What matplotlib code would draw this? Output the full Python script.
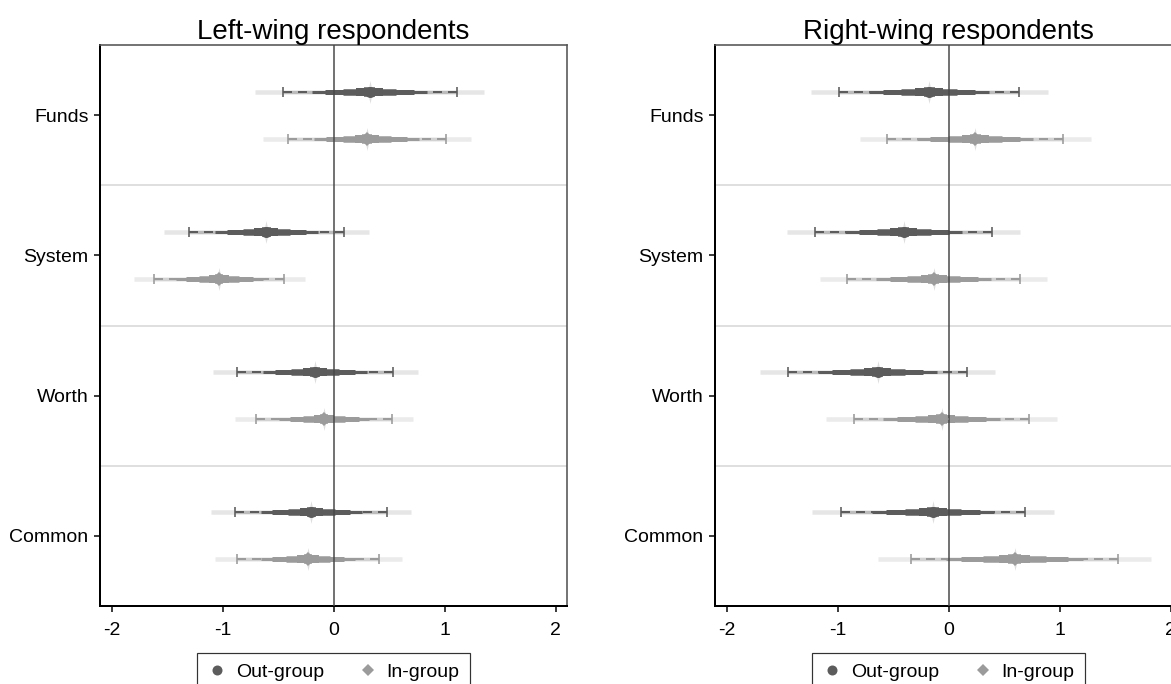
import numpy as np
import matplotlib
matplotlib.use("Agg")
import matplotlib.pyplot as plt
from matplotlib.lines import Line2D
from matplotlib.path import Path

plt.rcParams['font.family'] = ['Liberation Sans', 'DejaVu Sans']
plt.rcParams['lines.scale_dashes'] = False

categories = ["Funds", "System", "Worth", "Common"]
titles = ["Left-wing respondents", "Right-wing respondents"]
group_labels = ["Out-group", "In-group"]

# coefficients and standard errors
left_out_coef = [0.32, -0.61, -0.17, -0.205]
left_out_se = [0.40, 0.358, 0.359, 0.35]
left_in_coef = [0.295, -1.035, -0.09, -0.234]
left_in_se = [0.364, 0.30, 0.311, 0.327]

right_out_coef = [-0.18, -0.408, -0.645, -0.146]
right_out_se = [0.415, 0.407, 0.41, 0.424]
right_in_coef = [0.235, -0.138, -0.068, 0.59]
right_in_se = [0.404, 0.397, 0.404, 0.478]

Z95 = 1.96
Z99 = 2.576
PX = 0.72  # points per pixel at dpi 100

out_style = dict(col='#5c5c5c', gap='#bcbcbc', light='#e6e6e6', marker='o', ms=11)
in_style = dict(col='#9b9b9b', gap='#d2d2d2', light='#ebebeb', marker='D', ms=9.5)

# narrow vertical spike used for the light glare around each point
spike = Path([(0, 1), (0.2, 0), (0, -1), (-0.2, 0), (0, 1)],
             [Path.MOVETO, Path.LINETO, Path.LINETO, Path.LINETO, Path.CLOSEPOLY])


def draw_est(ax, y, b, se, st):
    lo, hi = b - Z95 * se, b + Z95 * se
    # outer 99% band
    ax.plot([b - Z99 * se, b + Z99 * se], [y, y], color=st['light'], lw=4.5 * PX,
            solid_capstyle='butt', zorder=2)
    # 95% band: light underlay with dark dashes starting at the caps
    ax.plot([lo, hi], [y, y], color=st['gap'], lw=3 * PX, solid_capstyle='butt', zorder=3)
    for end in (lo, hi):
        ax.plot([end, b], [y, y], color=st['col'], lw=2 * PX, dashes=(9 * PX, 6 * PX),
                solid_capstyle='butt', dash_capstyle='butt', zorder=3.5)
    ax.plot([lo, hi], [y, y], ls='none', marker='|', ms=10 * PX, mew=1.6 * PX,
            color=st['col'], zorder=4)
    # glare
    ax.plot([b], [y], marker=spike, ms=23 * PX, color='#dedede', mew=0, zorder=4.2)
    # smooth inner levels
    for z, w in [(1.3, 3), (1.0, 5), (0.6, 6.5), (0.3, 8), (0.12, 9.5)]:
        ax.plot([b - z * se, b + z * se], [y, y], color=st['col'], lw=w * PX,
                solid_capstyle='butt', zorder=4.5)
    ax.plot([b], [y], marker=st['marker'], ms=st['ms'] * PX, color=st['col'], mew=0, zorder=7)


fig = plt.figure(figsize=(11.71, 6.84), dpi=100)
ypos = np.arange(len(categories), 0, -1)
off = 0.167

panels = [
    (left_out_coef, left_out_se, left_in_coef, left_in_se),
    (right_out_coef, right_out_se, right_in_coef, right_in_se),
]
lefts = [100 / 1171, 715 / 1171]

for k, (oc, ose, ic, ise) in enumerate(panels):
    ax = fig.add_axes([lefts[k], 1 - 606 / 684, 467 / 1171, 561 / 684])
    for s in (1.5, 2.5, 3.5):
        ax.axhline(s, color='#dcdcdc', lw=1.8 * PX, zorder=1)
    for i in range(len(categories)):
        draw_est(ax, ypos[i] + off, oc[i], ose[i], out_style)
        draw_est(ax, ypos[i] - off, ic[i], ise[i], in_style)
    ax.axvline(0, color='#474747', lw=1.5 * PX, zorder=6)

    ax.set_xlim(-2.11, 2.1)
    ax.set_ylim(0.5, 4.5)
    ax.set_xticks([-2, -1, 0, 1, 2])
    ax.set_xticklabels(['-2', '-1', '0', '1', '2'])
    ax.set_yticks(ypos)
    ax.set_yticklabels(categories)
    ax.tick_params(axis='both', length=6 * PX, width=1.5 * PX, labelsize=14, pad=4)
    ax.tick_params(axis='x', pad=7)

    ax.spines['left'].set_linewidth(2 * PX)
    ax.spines['bottom'].set_linewidth(2 * PX)
    for sp in ('top', 'right'):
        ax.spines[sp].set_color('#555555')
        ax.spines[sp].set_linewidth(1.6 * PX)

    ax.set_title(titles[k], fontsize=20, pad=2)

    handles = [
        Line2D([], [], ls='none', marker='o', ms=10 * PX, color=out_style['col'], mew=0),
        Line2D([], [], ls='none', marker='D', ms=8 * PX, color=in_style['col'], mew=0),
    ]
    leg = ax.legend(handles, group_labels, loc='upper center', bbox_to_anchor=(0.5, -0.083),
                    ncol=2, frameon=True, fancybox=False, edgecolor='black', fontsize=14,
                    borderaxespad=0, handlelength=1.0, handletextpad=0.45,
                    columnspacing=1.75, borderpad=0.55)
    leg.get_frame().set_linewidth(1.2 * PX)

fig.savefig('out.png', dpi=100)
